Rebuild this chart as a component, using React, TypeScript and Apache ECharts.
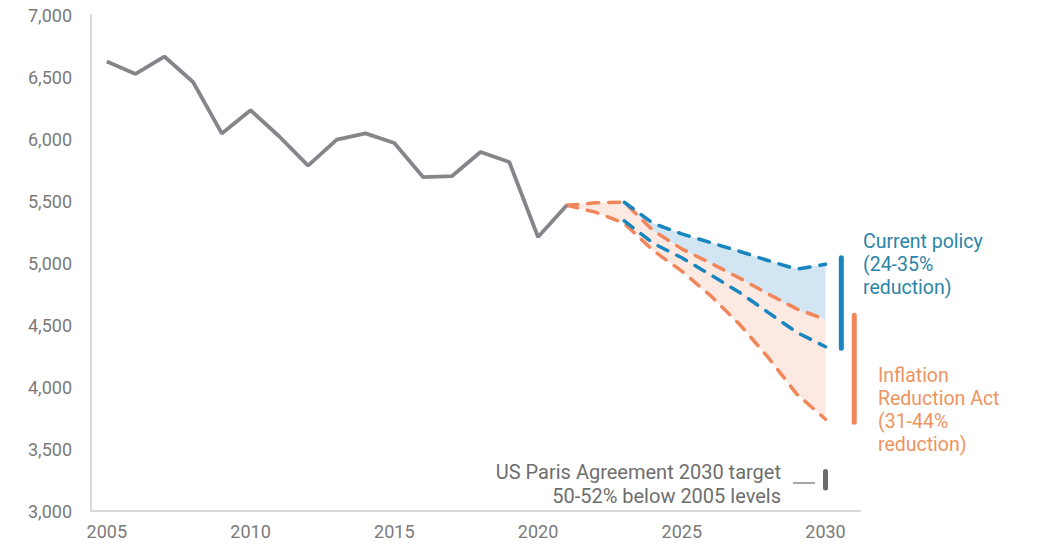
import React, { useEffect, useRef } from "react";
import * as echarts from "echarts";

const histYears = [2005, 2006, 2007, 2008, 2009, 2010, 2011, 2012, 2013, 2014, 2015, 2016, 2017, 2018, 2019, 2020, 2021];
const histValues = [6625, 6525, 6665, 6460, 6045, 6232, 6020, 5785, 5995, 6045, 5968, 5693, 5700, 5895, 5815, 5210, 5465];

const projYears = [2021, 2022, 2023, 2024, 2025, 2026, 2027, 2028, 2029, 2030];
const currentHigh = [5465, 5485, 5490, 5320, 5235, 5165, 5095, 5020, 4950, 4990];
const currentLow = [5465, 5410, 5340, 5160, 5042, 4905, 4764, 4602, 4441, 4325];
const iraHigh = [5465, 5485, 5490, 5263, 5114, 4999, 4880, 4751, 4630, 4545];
const iraLow = [5465, 5410, 5320, 5101, 4935, 4737, 4508, 4240, 3943, 3740];

const currentRange = [5043, 4313];
const iraRange = [4578, 3716];
const parisRange = [3318, 3185];

const xTicks = [2005, 2010, 2015, 2020, 2025, 2030];

const currentLabel = ["Current policy", "(24-35%", "reduction)"];
const iraLabel = ["Inflation", "Reduction Act", "(31-44%", "reduction)"];
const parisLabel = ["US Paris Agreement 2030 target", "50-52% below 2005 levels"];

const BLUE = "#1a86c0";
const ORANGE = "#f0865a";
const GRAY = "#86868a";

export default function App() {
  const ref = useRef<HTMLDivElement>(null);
  useEffect(() => {
    if (!ref.current) return;
    const chart = echarts.init(ref.current, null, { renderer: "svg" });
    const pair = (ys: number[], vs: number[]) => ys.map((y, i) => [y, vs[i]]);
    const dashStyle = (color: string) => ({
      color,
      width: 3.5,
      type: [11, 10] as any,
      cap: "round" as any,
    });
    const font = "Roboto, 'Open Sans', sans-serif";
    const band = (upper: number[], lower: number[], color: string) => ({
      type: "custom",
      data: [[projYears[0], upper[0]]],
      z: 1,
      silent: true,
      renderItem: (_p: any, api: any) => {
        const pts: number[][] = [];
        projYears.forEach((y, i) => pts.push(api.coord([y, upper[i]])));
        for (let i = projYears.length - 1; i >= 0; i--) pts.push(api.coord([projYears[i], lower[i]]));
        return { type: "polygon", shape: { points: pts }, style: { fill: color } };
      },
    });
    const textLines = (lines: string[], x: number, y0: number, dy: number, color: string, size: number, align: string) =>
      lines.map((t, i) => ({
        type: "text",
        x,
        y: y0 + i * dy,
        style: {
          text: t,
          fill: color,
          font: `${size}px ${font}`,
          textAlign: align,
          textVerticalAlign: "middle",
        },
      }));
    chart.setOption({
      animation: false,
      grid: { left: 91, right: 181, top: 15, bottom: 38 },
      xAxis: {
        type: "value",
        min: 2004.45,
        max: 2031.2,
        axisLine: { show: true, lineStyle: { color: "#d9d9d9", width: 2 } },
        axisTick: { show: false },
        splitLine: { show: false },
        axisLabel: {
          customValues: xTicks,
          color: "#7a7a7a",
          fontSize: 18,
          fontFamily: font,
          margin: 11,
          formatter: (v: number) => String(v),
        },
      },
      yAxis: {
        type: "value",
        min: 3000,
        max: 7000,
        interval: 500,
        axisLine: { show: true, lineStyle: { color: "#d9d9d9", width: 2 } },
        axisTick: { show: false },
        splitLine: { show: false },
        axisLabel: {
          color: "#7a7a7a",
          fontSize: 18,
          fontFamily: font,
          margin: 19,
          formatter: (v: number) => v.toLocaleString("en-US"),
        },
      },
      series: [
        band(iraHigh, iraLow, "#fbe9e2"),
        band(currentHigh, iraHigh, "#d2e5f3"),
        {
          type: "line",
          data: pair(histYears, histValues),
          symbol: "none",
          lineStyle: { color: GRAY, width: 3.8 },
          z: 5,
        },
        {
          type: "line",
          data: pair(projYears, iraHigh),
          symbol: "none",
          lineStyle: dashStyle(ORANGE),
          z: 3,
        },
        {
          type: "line",
          data: pair(projYears, iraLow),
          symbol: "none",
          lineStyle: dashStyle(ORANGE),
          z: 3,
        },
        {
          type: "line",
          data: pair(projYears.slice(2), currentHigh.slice(2)),
          symbol: "none",
          lineStyle: dashStyle(BLUE),
          z: 4,
        },
        {
          type: "line",
          data: pair(projYears.slice(2), currentLow.slice(2)),
          symbol: "none",
          lineStyle: dashStyle(BLUE),
          z: 4,
        },
        {
          type: "line",
          data: [[2030.55, currentRange[0]], [2030.55, currentRange[1]]],
          symbol: "none",
          lineStyle: { color: BLUE, width: 5, cap: "round" },
          z: 4,
        },
        {
          type: "line",
          data: [[2031.0, iraRange[0]], [2031.0, iraRange[1]]],
          symbol: "none",
          lineStyle: { color: ORANGE, width: 5, cap: "round" },
          z: 4,
        },
        {
          type: "line",
          data: [[2030.0, parisRange[0]], [2030.0, parisRange[1]]],
          symbol: "none",
          lineStyle: { color: "#6b6b6b", width: 5, cap: "round" },
          z: 4,
        },
      ],
      graphic: [
        ...textLines(currentLabel, 863, 241, 23, "#2b85a9", 19.5, "left"),
        ...textLines(iraLabel, 878, 375, 23, "#ee9460", 19.5, "left"),
        ...textLines(parisLabel, 781, 472, 24, "#6e6e6e", 20, "right"),
        {
          type: "line",
          shape: { x1: 793, y1: 483, x2: 815, y2: 483 },
          style: { stroke: "#8a8a8a", lineWidth: 1.5 },
        },
      ],
    });
    return () => chart.dispose();
  }, []);
  return (
    <div
      ref={ref}
      style={{ position: "fixed", left: 0, top: 0, width: 1041, height: 549, background: "#fff" }}
    />
  );
}
